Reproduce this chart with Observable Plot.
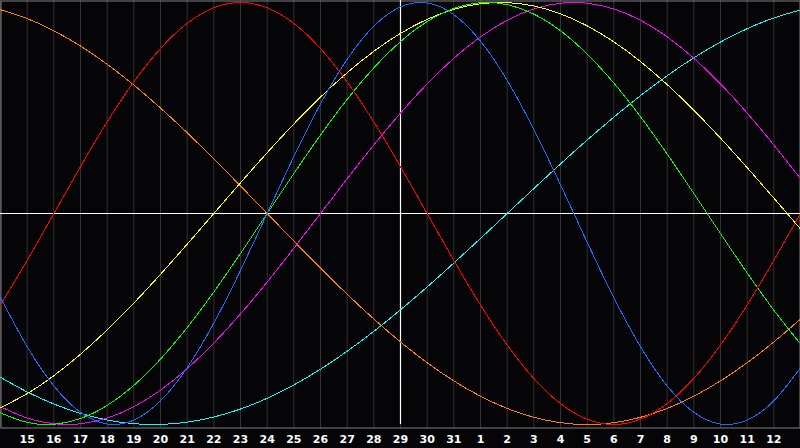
<!DOCTYPE html>
<html>
<head>
<meta charset="utf-8">
<script src="https://cdn.jsdelivr.net/npm/d3@7"></script>
<script src="https://cdn.jsdelivr.net/npm/@observablehq/plot@0.6"></script>
<style>
  html, body { margin: 0; padding: 0; background: #050508; }
  #chart svg { display: block; }
</style>
</head>
<body>
<div id="chart"></div>
<script>
// Day labels for positions 1..29 (position 0 = 14th, 30 = 13th)
const dayLabels = ["15","16","17","18","19","20","21","22","23","24","25","26","27","28","29","30","31",
                   "1","2","3","4","5","6","7","8","9","10","11","12"];
const positions = d3.range(0, 31);
const today = 15;

// Values read at each day position 0..30 (range -1..1)
const blue = [-0.3984,-0.6311,-0.8170,-0.9423,-0.9977,-0.9791,-0.8879,-0.7308,-0.5196,-0.2698,0,0.2698,0.5196,0.7308,0.8879,0.9791,0.9977,0.9423,0.8170,0.6311,0.3984,0.1362,-0.1362,-0.3984,-0.6311,-0.8170,-0.9423,-0.9977,-0.9791,-0.8879,-0.7308];
const red = [-0.4339,-0.2225,0,0.2225,0.4339,0.6235,0.7818,0.9010,0.9749,1,0.9749,0.9010,0.7818,0.6235,0.4339,0.2225,0,-0.2225,-0.4339,-0.6235,-0.7818,-0.9010,-0.9749,-1,-0.9749,-0.9010,-0.7818,-0.6235,-0.4339,-0.2225,0];
const green = [-0.9450,-0.9898,-0.9989,-0.9718,-0.9096,-0.8146,-0.6901,-0.5406,-0.3717,-0.1893,0,0.1893,0.3717,0.5406,0.6901,0.8146,0.9096,0.9718,0.9989,0.9898,0.9450,0.8660,0.7557,0.6182,0.4582,0.2817,0.0950,-0.0950,-0.2817,-0.4582,-0.6182];
const magenta = [-0.9158,-0.9694,-0.9966,-0.9966,-0.9694,-0.9158,-0.8372,-0.7357,-0.6142,-0.4759,-0.3247,-0.1646,0,0.1646,0.3247,0.4759,0.6142,0.7357,0.8372,0.9158,0.9694,0.9966,0.9966,0.9694,0.9158,0.8372,0.7357,0.6142,0.4759,0.3247,0.1646];
const yellow = [-0.9204,-0.8537,-0.7687,-0.6671,-0.5517,-0.4245,-0.2881,-0.1456,0,0.1456,0.2881,0.4245,0.5517,0.6671,0.7687,0.8537,0.9204,0.9675,0.9940,0.9993,0.9834,0.9464,0.8894,0.8135,0.7202,0.6111,0.4894,0.3572,0.2174,0.0731,-0.0731];
const orange = [0.9659,0.9239,0.8660,0.7934,0.7071,0.6088,0.5,0.3827,0.2588,0.1305,0,-0.1305,-0.2588,-0.3827,-0.5,-0.6088,-0.7071,-0.7934,-0.8660,-0.9239,-0.9659,-0.9914,-1,-0.9914,-0.9659,-0.9239,-0.8660,-0.7934,-0.7071,-0.6088,-0.5];
const cyan = [-0.7765,-0.8457,-0.9028,-0.9473,-0.9785,-0.9961,-0.9996,-0.9890,-0.9646,-0.9267,-0.8758,-0.8126,-0.7380,-0.6527,-0.5586,-0.4566,-0.3482,-0.2348,-0.1183,0,0.1183,0.2348,0.3482,0.4566,0.5586,0.6527,0.7380,0.8126,0.8758,0.9267,0.9646];

const series = [
  {name: "cyan", color: "#00ffff", values: cyan},
  {name: "orange", color: "#ff8000", values: orange},
  {name: "magenta", color: "#ff00ff", values: magenta},
  {name: "yellow", color: "#ffff00", values: yellow},
  {name: "green", color: "#00ff00", values: green},
  {name: "red", color: "#ff0000", values: red},
  {name: "blue", color: "#1a6cff", values: blue}
];

const table = series.flatMap(s => s.values.map((v, i) => ({x: positions[i], y: v, name: s.name})));

const chart = Plot.plot({
  width: 800,
  height: 448,
  marginTop: 0,
  marginLeft: 0,
  marginRight: 0,
  marginBottom: 20,
  style: {background: "#050508", color: "#ffffff"},
  x: {domain: [0, 30], range: [0, 800]},
  y: {domain: [-1, 1], range: [424, 2]},
  marks: [
    Plot.gridX(positions, {stroke: "#333333", strokeOpacity: 1}),
    Plot.frame({stroke: "#808080", inset: 0.5}),
    Plot.ruleY([0], {stroke: "#ffffff", strokeWidth: 1.2}),
    Plot.ruleX([today], {stroke: "#ffffff", strokeWidth: 1.2, y1: -1, y2: 1.02}),
    ...series.map(s => Plot.line(table.filter(d => d.name === s.name), {x: "x", y: "y", stroke: s.color, strokeWidth: 1, curve: "natural", shapeRendering: "crispEdges"})),
    Plot.axisX(d3.range(1, 30), {
      tickFormat: d => dayLabels[d - 1],
      tickSize: 0,
      tickPadding: 7,
      fill: "#ffffff",
      fontSize: 11,
      fontWeight: "bold",
      fontFamily: "DejaVu Sans",
      label: null
    }),
    Plot.axisY({ticks: [], label: null})
  ]
});
document.getElementById("chart").appendChild(chart);
</script>
</body>
</html>
